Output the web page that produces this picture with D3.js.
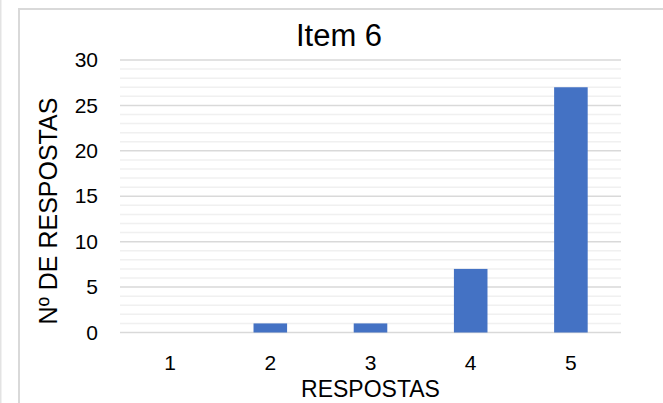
<!DOCTYPE html>
<html>
<head>
<meta charset="utf-8">
<script src="https://cdn.jsdelivr.net/npm/d3@7"></script>
<style>
  html, body { margin: 0; padding: 0; background: #fff; }
  svg { display: block; font-family: "Liberation Sans", Arial, sans-serif; }
</style>
</head>
<body>
<svg id="chart" width="663" height="403"></svg>
<script>
// Chart data
const categories = ["1", "2", "3", "4", "5"];
const values = [0, 1, 1, 7, 27];
const majorTicks = [0, 5, 10, 15, 20, 25, 30];
const minorTicks = d3.range(0, 31, 1);
const title = "Item 6";
const xTitle = "RESPOSTAS";
const yTitle = "Nº DE RESPOSTAS";

const svg = d3.select("#chart");
const W = 663, H = 403;
const plot = { left: 120, right: 621, top: 60, bottom: 332.5 };
const FONT = "Liberation Sans, Arial, sans-serif";

// Frame lines
svg.append("rect").attr("x", 0).attr("y", 0).attr("width", 1.5).attr("height", H).attr("fill", "#e3e3e3");
svg.append("rect").attr("x", 19).attr("y", 9).attr("width", W).attr("height", H)
  .attr("fill", "none").attr("stroke", "#d9d9d9").attr("stroke-width", 2);

const x = d3.scaleBand().domain(categories).range([plot.left, plot.right]).paddingInner(0.665).paddingOuter(0.3325);
const y = d3.scaleLinear().domain([0, 30]).range([plot.bottom, plot.top]);

// Minor gridlines
svg.append("g").selectAll("line").data(minorTicks.filter(d => d % 5 !== 0)).join("line")
  .attr("x1", plot.left).attr("x2", plot.right)
  .attr("y1", d => y(d)).attr("y2", d => y(d))
  .attr("stroke", "#f0f0f0").attr("stroke-width", 1.5);

// Major gridlines
svg.append("g").selectAll("line").data(majorTicks).join("line")
  .attr("x1", plot.left).attr("x2", plot.right)
  .attr("y1", d => y(d)).attr("y2", d => y(d))
  .attr("stroke", "#d9d9d9").attr("stroke-width", 1.5);

// Bars
svg.append("g").selectAll("rect").data(values).join("rect")
  .attr("x", (d, i) => x(categories[i]))
  .attr("width", x.bandwidth())
  .attr("y", d => y(d))
  .attr("height", d => y(0) - y(d))
  .attr("fill", "#4472c4");

// Y axis tick labels
const yAxis = d3.axisLeft(y).tickValues(majorTicks).tickSize(0).tickPadding(22);
const gy = svg.append("g").attr("transform", `translate(${plot.left},0)`).call(yAxis);
gy.attr("font-size", null).attr("font-family", null);
gy.select(".domain").remove();
gy.selectAll("text").style("font-size", "21px").style("font-family", FONT).attr("fill", "#000");

// X axis tick labels
const xAxis = d3.axisBottom(x).tickSize(0).tickPadding(22.5);
const gx = svg.append("g").attr("transform", `translate(0,${plot.bottom})`).call(xAxis);
gx.attr("font-size", null).attr("font-family", null);
gx.select(".domain").remove();
gx.selectAll("text").style("font-size", "21px").style("font-family", FONT).attr("fill", "#000");

// Titles
svg.append("text").attr("x", 339).attr("y", 46).attr("text-anchor", "middle")
  .style("font-size", "31px").attr("fill", "#000").text(title);
svg.append("text").attr("x", (plot.left + plot.right) / 2).attr("y", 397).attr("text-anchor", "middle")
  .style("font-size", "23px").attr("fill", "#000").text(xTitle);
svg.append("text").attr("transform", `translate(57,211) rotate(-90)`)
  .attr("text-anchor", "middle").style("font-size", "25px").attr("fill", "#000").text(yTitle);
</script>
</body>
</html>
